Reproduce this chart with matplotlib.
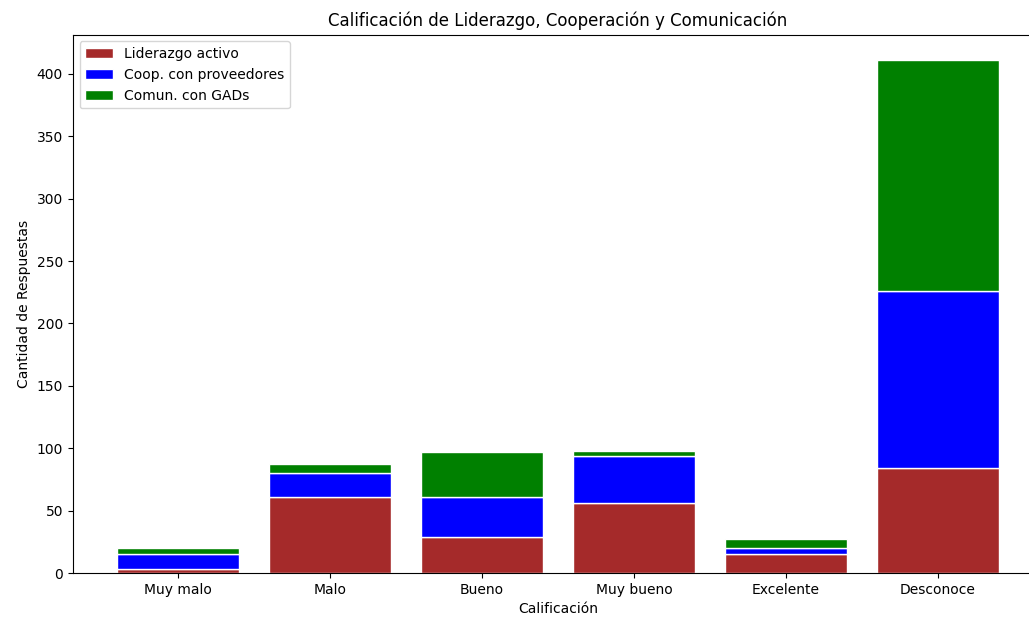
import numpy as np
import matplotlib.pyplot as plt

categorias = ['Muy malo', 'Malo', 'Bueno', 'Muy bueno', 'Excelente', 'Desconoce']
liderazgo = [3, 61, 29, 56, 15, 84]
cooperacion = [12, 19, 32, 38, 5, 142]
comunicacion = [5, 7, 36, 4, 7, 185]

x = np.arange(len(categorias))
lid = np.array(liderazgo)
coop = np.array(cooperacion)

fig, ax = plt.subplots(figsize=(10.29, 6.17), dpi=100)
# the reference is cropped on the right, so the axes runs past the edge
fig.subplots_adjust(left=0.0707, right=1.0136, top=0.944, bottom=0.0713)

ax.bar(x, liderazgo, color='brown', edgecolor='white', label='Liderazgo activo')
ax.bar(x, cooperacion, bottom=lid, color='blue', edgecolor='white', label='Coop. con proveedores')
ax.bar(x, comunicacion, bottom=lid + coop, color='green', edgecolor='white', label='Comun. con GADs')

ax.set_xticks(x)
ax.set_xticklabels(categorias)
ax.set_xlabel('Calificación')
ax.set_ylabel('Cantidad de Respuestas')
ax.set_title('Calificación de Liderazgo, Cooperación y Comunicación')
ax.legend(loc='upper left')

plt.savefig('out.png')
plt.close()
